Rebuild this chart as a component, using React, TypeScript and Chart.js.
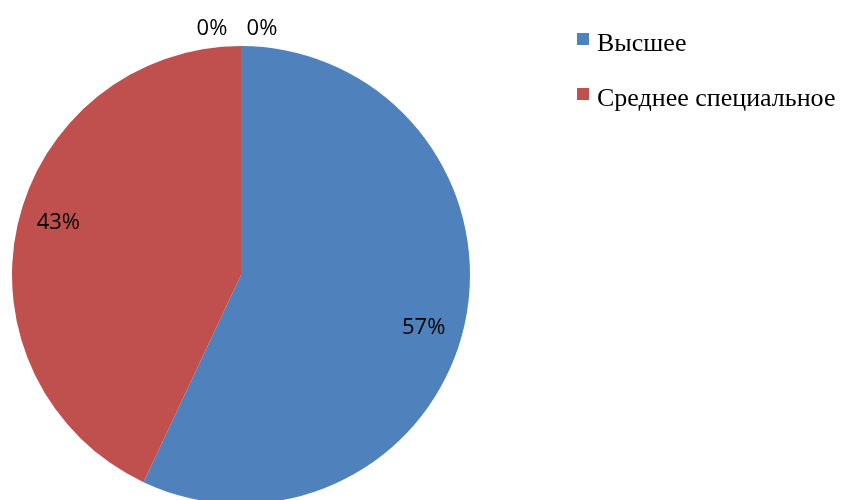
import React, { useEffect, useRef } from "react";
import { Chart, registerables } from "chart.js";

Chart.register(...registerables);

const categories = ["Высшее", "Среднее специальное", "", ""];
const values = [57, 43, 0, 0];
const colors = ["#4F81BD", "#C0504D", "#9BBB59", "#8064A2"];

const labelPlugin = {
  id: "sliceLabels",
  afterDatasetsDraw(chart: any) {
    const ctx = chart.ctx;
    const meta = chart.getDatasetMeta(0);
    const data = chart.data.datasets[0].data as number[];
    const total = data.reduce((a, b) => a + b, 0);
    ctx.save();
    ctx.font = "22px 'Open Sans'";
    ctx.fillStyle = "#000000";
    ctx.textAlign = "center";
    ctx.textBaseline = "middle";
    const zeros: number[] = [];
    meta.data.forEach((arc: any, i: number) => {
      const v = data[i];
      const pct = Math.round((v / total) * 100) + "%";
      const p = arc.getProps(["x", "y", "startAngle", "endAngle", "outerRadius"], true);
      if (v === 0) {
        zeros.push(i);
        return;
      }
      const mid = (p.startAngle + p.endAngle) / 2 + 0.06;
      const r = p.outerRadius * 0.83;
      ctx.fillText(pct, p.x + Math.cos(mid) * r, p.y + Math.sin(mid) * r);
    });
    zeros.forEach((i, k) => {
      const arc = meta.data[i];
      const p = arc.getProps(["x", "y", "startAngle", "outerRadius"], true);
      const r = p.outerRadius * 1.08;
      const off = (k - (zeros.length - 1) / 2) * 50 - 4;
      ctx.fillText("0%", p.x + Math.cos(p.startAngle) * r + off, p.y + Math.sin(p.startAngle) * r + 1);
    });
    ctx.restore();
  },
};

const legendPlugin = {
  id: "customLegend",
  afterDraw(chart: any) {
    const ctx = chart.ctx;
    ctx.save();
    ctx.font = "26px 'Liberation Serif'";
    ctx.textBaseline = "alphabetic";
    ctx.textAlign = "left";
    let row = 0;
    categories.forEach((name, i) => {
      if (!name) return;
      const y = 33 + row * 55;
      ctx.fillStyle = colors[i];
      ctx.fillRect(577, y, 12, 12);
      ctx.fillStyle = "#000000";
      ctx.fillText(name, 597, y + 18);
      row++;
    });
    ctx.restore();
  },
};

export default function App() {
  const ref = useRef<HTMLCanvasElement>(null);
  useEffect(() => {
    if (!ref.current) return;
    const chart = new Chart(ref.current, {
      type: "pie",
      data: {
        labels: categories,
        datasets: [
          {
            data: values,
            backgroundColor: colors,
            borderWidth: 0,
          },
        ],
      },
      options: {
        responsive: false,
        animation: false,
        layout: { padding: { left: 12, right: 371, top: 46, bottom: 44 } },
        plugins: {
          legend: { display: false },
          tooltip: { enabled: false },
        },
      },
      plugins: [labelPlugin, legendPlugin],
    });
    return () => chart.destroy();
  }, []);
  return (
    <div style={{ position: "absolute", left: 0, top: 0, width: 841, height: 548, background: "#fff" }}>
      <canvas ref={ref} width={841} height={548} />
    </div>
  );
}
